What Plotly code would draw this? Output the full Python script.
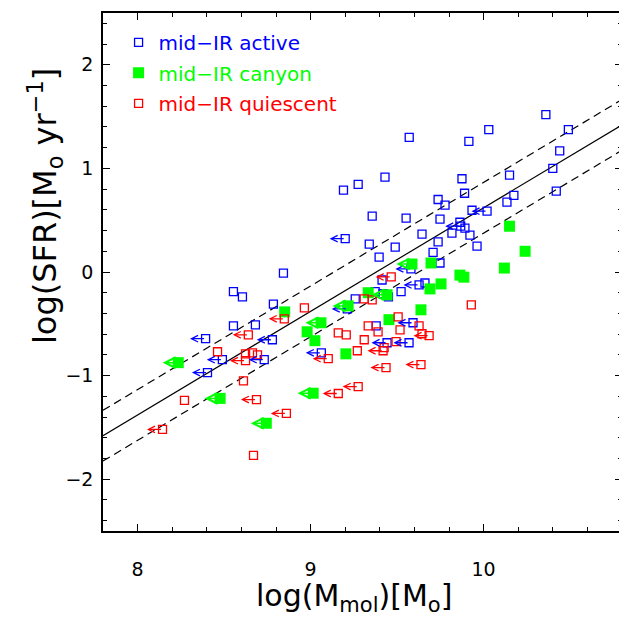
import plotly.graph_objects as go

# ---------------- data ----------------
# mid-IR active (blue open squares)
active_x = [10.36, 10.03, 10.49, 9.915, 9.57, 10.44, 10.40, 10.15, 9.875, 9.43, 9.275, 9.19,
            9.89, 10.175, 10.42, 10.135, 9.737, 9.777, 9.933, 9.356, 9.552, 9.748, 9.863, 9.892,
            9.644, 9.817, 9.921, 9.339, 9.489, 9.737, 9.962, 9.708, 9.396, 9.748, 8.843, 8.554,
            8.606, 8.785, 9.413, 9.373, 9.419, 9.523, 9.661, 9.258, 9.379, 8.554, 8.681, 9.45]
active_y = [1.52, 1.375, 1.375, 1.26, 1.30, 1.17, 1.00, 0.935, 0.90, 0.915, 0.846, 0.79,
            0.76, 0.74, 0.78, 0.675, 0.70, 0.645, 0.596, 0.54, 0.52, 0.51, 0.48, 0.423,
            0.365, 0.375, 0.356, 0.27, 0.24, 0.29, 0.25, 0.19, 0.144, 0.087, -0.01, -0.19,
            -0.24, -0.31, -0.077, -0.19, -0.21, -0.19, -0.106, -0.26, -0.52, -0.52, -0.51, -0.24]
# mid-IR active, upper limits on M_mol
active_ul_x = [10.02, 9.868, 9.20, 9.58, 9.627, 9.212, 9.592, 9.442, 9.569, 9.062, 8.393,
               8.779, 8.49, 8.732, 8.404]
active_ul_y = [0.587, 0.442, 0.322, 0.03, -0.125, -0.356, -0.49, -0.683, -0.683, -0.78, -0.644,
               -0.654, -0.846, -0.846, -0.971]

# mid-IR canyon (green filled squares)
canyon_x = [10.15, 10.24, 10.12, 9.863, 9.886, 9.754, 9.69, 9.696, 9.638, 9.453, 9.333, 8.85,
            8.98, 9.025, 9.204]
canyon_y = [0.442, 0.20, 0.038, -0.03, -0.05, -0.115, -0.163, 0.087, -0.365, -0.46, -0.20, -0.385,
            -0.577, -0.663, -0.79]
canyon_ul_x = [9.586, 9.442, 9.217, 9.06, 8.235, 8.477, 9.015, 8.744]
canyon_ul_y = [0.077, -0.22, -0.327, -0.49, -0.875, -1.22, -1.17, -1.46]

# mid-IR quiescent (red open squares)
quies_x = [9.929, 8.964, 9.31, 9.356, 9.506, 9.627, 9.333, 9.39, 9.517, 9.16, 9.206, 9.31,
           9.494, 9.27, 8.462, 8.624, 8.664, 8.693, 8.612, 8.271, 8.67, 9.644, 9.425]
quies_y = [-0.317, -0.346, -0.26, -0.27, -0.433, -0.52, -0.52, -0.577, -0.558, -0.587, -0.606, -0.654,
           -0.673, -0.76, -0.77, -0.79, -0.78, -0.80, -1.05, -1.24, -1.77, -0.596, -0.73]
quies_ul_x = [9.466, 8.848, 8.64, 9.685, 9.419, 9.102, 9.436, 9.638, 9.275, 9.16, 8.624, 8.687,
              8.86, 8.144]
quies_ul_y = [-0.048, -0.452, -0.606, -0.615, -0.76, -0.837, -0.923, -0.894, -1.106, -1.173, -0.856,
              -1.231, -1.365, -1.52]

# fitted relation and its scatter
fit_slope = 1.0
fit_intercept = -9.38
fit_scatter = 0.245
ul_arrow_len = 0.09

x_range = [7.8, 10.8]
y_range = [-2.5, 2.5]
x_ticks = [8, 9, 10]
y_ticks = [-2, -1, 0, 1, 2]

BLUE = "#0000ff"
GREEN = "#00ff00"
RED = "#ff0000"
FONT = "DejaVu Sans"

fig = go.Figure()

# relation lines
lx = x_range
for off, dash in [(0.0, "solid"), (fit_scatter, "8px,5px"), (-fit_scatter, "8px,5px")]:
    fig.add_trace(go.Scatter(
        x=lx, y=[fit_slope * v + fit_intercept + off for v in lx],
        mode="lines", line=dict(color="black", width=1.2, dash=dash),
        showlegend=False, hoverinfo="skip"))

# points
fig.add_trace(go.Scatter(
    x=active_x + active_ul_x, y=active_y + active_ul_y, mode="markers",
    name=f"<span style='color:{BLUE}'>mid\u2212IR active</span>",
    legendgroup="a",
    marker=dict(symbol="square-open", size=8, color=BLUE, line=dict(color=BLUE, width=1.3))))
fig.add_trace(go.Scatter(
    x=canyon_x + canyon_ul_x, y=canyon_y + canyon_ul_y, mode="markers",
    name=f"<span style='color:{GREEN}'>mid\u2212IR canyon</span>",
    legendgroup="b",
    marker=dict(symbol="square", size=11, color=GREEN, line=dict(width=0))))
fig.add_trace(go.Scatter(
    x=quies_x + quies_ul_x, y=quies_y + quies_ul_y, mode="markers",
    name=f"<span style='color:{RED}'>mid\u2212IR quiescent</span>",
    legendgroup="c",
    marker=dict(symbol="square-open", size=8, color=RED, line=dict(color=RED, width=1.3))))

# upper-limit arrows
annos = []
for xs, ys, col, w, s in [(active_ul_x, active_ul_y, BLUE, 1.3, 1.0),
                          (quies_ul_x, quies_ul_y, RED, 1.3, 1.0),
                          (canyon_ul_x, canyon_ul_y, GREEN, 1.5, 1.4)]:
    for x, y in zip(xs, ys):
        annos.append(dict(x=x - ul_arrow_len, y=y, ax=x, ay=y, xref="x", yref="y",
                          axref="x", ayref="y", text="", showarrow=True,
                          arrowhead=5, arrowsize=s, arrowwidth=w, arrowcolor=col,
                          standoff=0, startstandoff=0))

# axis titles
annos.append(dict(text="log(M<sub>mol</sub>)[M<sub>o</sub>]", x=0.484, y=-0.129,
                  xref="paper", yref="paper", showarrow=False,
                  font=dict(family=FONT, size=30, color="black"),
                  xanchor="center", yanchor="middle"))
annos.append(dict(text="log(SFR)[M<sub>o</sub> yr<sup>\u22121</sup>]", x=-0.112, y=0.627,
                  xref="paper", yref="paper", showarrow=False, textangle=-90,
                  font=dict(family=FONT, size=32, color="black"),
                  xanchor="center", yanchor="middle"))

axis_common = dict(showline=True, linecolor="black", linewidth=1.5, mirror="ticks",
                   ticks="inside", ticklen=7, tickwidth=1.2, tickcolor="black",
                   showgrid=False, zeroline=False,
                   tickfont=dict(family=FONT, size=19, color="black"))

# the page body adds an 8px offset, so margins/size compensate for it
fig.update_layout(
    width=619, height=609,
    margin=dict(l=95, r=4, t=3, b=86),
    plot_bgcolor="white", paper_bgcolor="white",
    xaxis=dict(range=x_range, tickvals=x_ticks, ticklabelstandoff=20,
               minor=dict(dtick=0.2, ticks="inside", ticklen=4, tickcolor="black", tickwidth=1.2),
               **axis_common),
    yaxis=dict(range=y_range, tickvals=y_ticks, ticklabelstandoff=4,
               minor=dict(dtick=0.2, ticks="inside", ticklen=4, tickcolor="black", tickwidth=1.2),
               **axis_common),
    legend=dict(x=0.03, y=0.981, xanchor="left", yanchor="top",
                bgcolor="rgba(0,0,0,0)", traceorder="grouped", tracegroupgap=1.5,
                font=dict(family=FONT, size=20)),
    annotations=annos,
    showlegend=True,
)

fig.write_html("out.html")
